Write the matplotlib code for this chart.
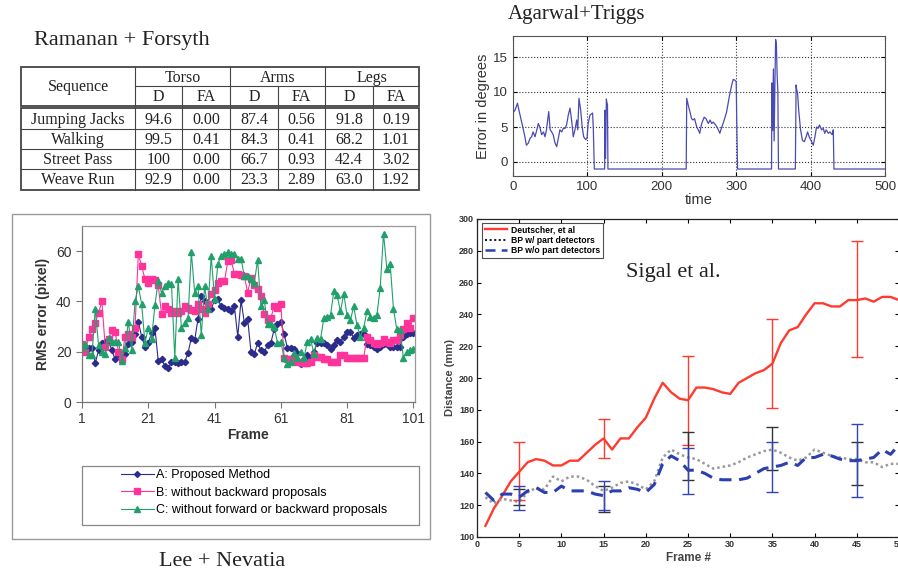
import matplotlib
matplotlib.use('Agg')
import matplotlib.pyplot as plt
from matplotlib.patches import Rectangle
from matplotlib.lines import Line2D

# ======================= DATA =======================
# --- Ramanan + Forsyth table ---
tbl_sequences = ["Jumping Jacks", "Walking", "Street Pass", "Weave Run"]
tbl_groups = ["Torso", "Arms", "Legs"]
tbl_sub = ["D", "FA"]
torso_D = ["94.6", "99.5", "100", "92.9"]
torso_FA = ["0.00", "0.41", "0.00", "0.00"]
arms_D = ["87.4", "84.3", "66.7", "23.3"]
arms_FA = ["0.56", "0.41", "0.93", "2.89"]
legs_D = ["91.8", "68.2", "42.4", "63.0"]
legs_FA = ["0.19", "1.01", "3.02", "1.92"]

# --- Agarwal + Triggs (time, error in degrees) ---
ag_time = [0, 0.5, 2.7, 6, 8, 11, 14, 16, 18, 20.6,
           23, 25, 27, 29.6, 32, 34, 36, 38.5, 41, 43,
           45, 48, 50, 52, 54, 56.5, 58.7, 61, 63, 65.4,
           67.7, 70, 72, 74.3, 76.6, 79, 81, 83.3, 85.6, 87,
           88.7, 91, 93, 95, 97.7, 99.5, 101, 103.5, 107, 108,
           109.3, 123.2, 123.6, 124.4, 125.5, 126.2, 127, 127.6, 232.8, 233.5,
           235.6, 238, 240, 242, 244, 247, 249, 251, 253.6, 257,
           259.4, 262.5, 265, 267, 269, 273, 276, 278, 280, 283,
           287, 289, 291, 294, 296, 298, 300, 301, 301.8, 347.5,
           348, 349, 350, 351, 352, 353, 354, 355, 356, 356.8,
           379.5, 380.5, 381, 382.5, 384, 386.5, 389, 391.6, 394, 396,
           398, 400.5, 403.6, 405.8, 408, 410, 412, 414.8, 417, 419,
           421, 423.8, 426, 429, 430.5, 431.4, 500]
ag_error = [4.3, 7.1, 7.4, 8.4, 7.4, 6.0, 4.6, 3.6, 2.4, 2.7,
            3.4, 3.6, 4.3, 3.6, 4.6, 5.5, 5.0, 3.9, 4.3, 3.6,
            4.6, 7.2, 4.6, 4.3, 3.9, 2.7, 2.2, 3.4, 4.6, 4.3,
            4.8, 4.8, 5.3, 6.7, 7.7, 5.8, 3.6, 4.6, 6.0, 4.6,
            9.1, 7.4, 5.0, 3.6, 3.2, 3.4, 5.5, 6.7, 7.0, 4.6,
            -1.0, -1.0, 7.4, 0.5, 9.0, 8.5, 8.2, -1.0, -1.0, 9.1,
            8.1, 7.1, 6.2, 6.0, 6.2, 5.0, 4.6, 4.1, 5.5, 6.4,
            6.2, 5.5, 6.0, 5.5, 5.7, 5.2, 4.6, 4.1, 4.8, 5.7,
            7.1, 8.3, 9.5, 11.0, 11.8, 11.7, 11.5, 4.0, -1.0, -1.0,
            11.3, 4.5, 13.3, 3.0, 11.0, 17.5, 16.8, 12.5, 10.0, -1.0,
            -1.0, 11.0, 10.5, 9.8, 7.4, 4.6, 3.1, 2.9, 3.6, 4.3,
            3.6, 3.1, 2.4, 3.6, 5.0, 4.8, 5.3, 4.6, 4.8, 4.1,
            4.6, 4.1, 4.3, 3.9, 4.6, -1.0, -1.0]

# --- Lee + Nevatia (RMS error per frame) ---
lee_frames = list(range(1, 102))
lee_A = [21, 22, 21.5, 21.5, 15.5, 20.5, 23.5, 24, 24.5, 20.5,
         17, 19, 18.5, 19, 23, 24, 27, 32, 26, 22,
         23.5, 27.5, 29.5, 16.5, 17, 14.5, 13.5, 16, 16, 15.5,
         16, 16, 19.5, 25.5, 24.5, 33, 42, 40, 37.5, 37,
         40.5, 41, 38, 37.5, 37, 36, 38, 26, 40.5, 31.5,
         33, 20, 19, 23.5, 20.5, 20, 22.5, 23.5, 29, 31,
         32, 27, 21.5, 21.5, 21, 19.5, 15, 17, 18.5, 17,
         20, 23.5, 23.5, 23.5, 22.5, 21, 22.5, 24.5, 24, 26,
         28, 28, 25.5, 26.5, 27, 27, 23, 22.5, 22, 21,
         22, 23, 23, 22, 22, 22, 22, 26, 27, 27.5,
         27.5]
lee_B = [23, 20, 26, 29, 31.5, 35.5, 40, 22, 25, 28.5,
         28, 20, 17, 26, 27, 26, 29.5, 59, 54, 49,
         47.5, 49, 48.5, 46.5, 35, 38, 37, 35.5, 36, 35.5,
         36, 38, 37.5, 36.5, 36, 39, 37, 35.5, 39, 43,
         44.5, 47.5, 48, 48, 56, 56.5, 51, 51, 50.5, 50,
         43.5, 49.5, 46.5, 45, 42, 35, 32.5, 33.5, 38, 37.5,
         39, 17.5, 17, 17, 17.5, 16, 16, 15.5, 15.5, 16,
         18.5, 18, 18, 17, 17, 16, 16, 16, 18.5, 18.5,
         17.5, 17.5, 17.5, 17.5, 17.5, 17.5, 26, 24.5, 23.5, 23,
         23.5, 25, 24, 23.5, 24.5, 24.5, 26.5, 29, 31.5, 29.5,
         33.5]
lee_C = [22, 23, 18.5, 18.5, 37, 22.5, 20, 19, 25.5, 24,
         24, 24, 16.5, 21.5, 32, 20.5, 40, 46, 39, 23.5,
         29.5, 25, 38.5, 48, 43.5, 46, 47.5, 47, 17.5, 49,
         29.5, 31.5, 33.5, 59.5, 43.5, 46, 26.5, 46, 37, 58,
         41, 55, 58, 59, 59.5, 59, 59, 57, 57, 50,
         50, 49, 47.5, 56.5, 38, 40.5, 31, 31, 30, 23.5,
         24, 17.5, 15, 16, 19.5, 17.5, 20, 17.5, 24, 25,
         19, 25.5, 25, 33.5, 34, 34.5, 44, 42.5, 36, 43,
         34.5, 32.5, 38, 30.5, 26, 29.5, 36, 34, 33.5, 34.5,
         45.5, 67, 53, 55, 37, 29, 28.5, 17.5, 20, 20.5,
         21]
lee_labels = ["A: Proposed Method", "B: without backward proposals",
              "C: without forward or backward proposals"]
lee_xticks = [1, 21, 41, 61, 81, 101]

# --- Sigal et al. (distance in mm per frame) ---
sig_frames = list(range(1, 51))
sig_deutscher = [107, 118, 126, 135, 141, 147, 149, 148, 145, 145,
                 148, 148, 153, 158, 162, 155, 162, 162, 169, 175,
                 187, 197, 191, 187, 186, 194, 194, 193, 191, 190,
                 197, 200, 203, 205, 209, 222, 230, 232, 240, 247,
                 247, 245, 245, 249, 249, 250, 248, 251, 251, 249]
sig_bp_with = [125, 121, 124, 123, 122, 128, 131, 130, 138, 135,
               138, 138, 136, 132, 129, 131, 134, 135, 133, 130,
               135, 150, 155, 152, 150, 149, 146, 143, 144, 145,
               147, 150, 152, 154, 155, 153, 150, 148, 150, 155,
               153, 151, 150, 149, 149, 147, 147, 144, 146, 146]
sig_bp_without = [128, 123, 127, 127, 125, 129, 131, 128, 128, 132,
                  129, 129, 129, 127, 126, 129, 129, 131, 130, 128,
                  133, 146, 151, 148, 142, 142, 140, 137, 136, 136,
                  136, 137, 140, 143, 144, 145, 147, 145, 150, 150,
                  152, 151, 149, 148, 148, 149, 150, 155, 152, 158]
sig_err_frames = [5, 15, 25, 35, 45]
sig_deut_lo = [123, 150, 158, 181, 213]
sig_deut_hi = [160, 174, 214, 237, 286]
sig_with_lo = [120, 116, 136, 142, 133]
sig_with_hi = [130, 132, 166, 169, 160]
sig_wo_lo = [117, 117, 127, 128, 125]
sig_wo_hi = [132, 135, 156, 160, 171]
sig_labels = ["Deutscher, et al", "BP w/ part detectors", "BP w/o part detectors"]

# ======================= FIGURE =======================
W, H = 898, 575
SERIF = 'Liberation Serif'
SANS = 'Liberation Sans'
fig = plt.figure(figsize=(W / 100, H / 100), dpi=100)
fig.patch.set_facecolor('white')


def frect(l, t, r, b):
    return [l / W, 1 - b / H, (r - l) / W, (b - t) / H]


# overlay axes in pixel coordinates (table + boxes)
ov = fig.add_axes([0, 0, 1, 1], zorder=-1)
ov.set_xlim(0, W)
ov.set_ylim(H, 0)
ov.axis('off')

# ---------------- Ramanan + Forsyth table ----------------
fig.text(122 / W, 1 - 40 / H, "Ramanan + Forsyth", family=SERIF, fontsize=16,
         ha='center', va='center', color='#222')
cx = [21, 135, 182, 230, 278, 325, 373, 419]
hdr_t, hdr_m, hdr_b = 67, 86, 106
body_t = 108
row_y = [108, 129, 149, 169, 190]
lc = '#444'
ov.add_patch(Rectangle((cx[0], hdr_t), cx[-1] - cx[0], hdr_b - hdr_t, fill=False, ec=lc, lw=1.3))
ov.add_patch(Rectangle((cx[0], body_t), cx[-1] - cx[0], row_y[-1] - body_t, fill=False, ec=lc, lw=1.3))
ov.plot([cx[1], cx[-1]], [hdr_m, hdr_m], color=lc, lw=0.8)
for i, x in enumerate(cx[1:-1], start=1):
    if i in (1, 3, 5):
        ov.plot([x, x], [hdr_t, hdr_b], color=lc, lw=0.8)
    else:
        ov.plot([x, x], [hdr_m, hdr_b], color=lc, lw=0.8)
    ov.plot([x, x], [body_t, row_y[-1]], color=lc, lw=0.8)
for y in row_y[1:-1]:
    ov.plot([cx[0], cx[-1]], [y, y], color=lc, lw=0.8)

tfs = 11.5
tcol = '#222'
ov.text((cx[0] + cx[1]) / 2, (hdr_t + hdr_b) / 2 + 4.5, "Sequence", ha='center', va='baseline',
        family=SERIF, fontsize=tfs, color=tcol)
for g, name in enumerate(tbl_groups):
    xa, xb, xc = cx[1 + 2 * g], cx[2 + 2 * g], cx[3 + 2 * g]
    ov.text((xa + xc) / 2, (hdr_t + hdr_m) / 2 + 5, name, ha='center', va='baseline',
            family=SERIF, fontsize=tfs, color=tcol)
    ov.text((xa + xb) / 2, (hdr_m + hdr_b) / 2 + 5, tbl_sub[0], ha='center', va='baseline',
            family=SERIF, fontsize=tfs, color=tcol)
    ov.text((xb + xc) / 2, (hdr_m + hdr_b) / 2 + 5, tbl_sub[1], ha='center', va='baseline',
            family=SERIF, fontsize=tfs, color=tcol)
cols = [tbl_sequences, torso_D, torso_FA, arms_D, arms_FA, legs_D, legs_FA]
for c, col in enumerate(cols):
    for r, val in enumerate(col):
        ov.text((cx[c] + cx[c + 1]) / 2, (row_y[r] + row_y[r + 1]) / 2 + 5, val, ha='center',
                va='baseline', family=SERIF, fontsize=tfs, color=tcol)

# ---------------- Agarwal + Triggs ----------------
fig.text(577 / W, 1 - 15 / H, "Agarwal+Triggs", family=SERIF, fontsize=15,
         ha='center', va='center', color='#222')
ax2 = fig.add_axes(frect(513, 36, 885, 176))
ax2.plot(ag_time, ag_error, color='#4a4ab5', lw=0.9)
ax2.set_xlim(0, 500)
ax2.set_ylim(-2, 18)
ax2.set_xticks([0, 100, 200, 300, 400, 500])
ax2.set_yticks([0, 5, 10, 15])
ax2.grid(True, linestyle=':', color='#333', lw=0.8)
ax2.tick_params(direction='in', labelsize=9.5, labelcolor='#333', length=3, top=True, right=True)
for lab in ax2.get_xticklabels() + ax2.get_yticklabels():
    lab.set_family(SANS)
ax2.set_xlabel("time", family=SANS, fontsize=10.5, color='#333', labelpad=0)
ax2.set_ylabel("Error in degrees", family=SANS, fontsize=10.5, color='#333', labelpad=2)
for s in ax2.spines.values():
    s.set_color('#555')
    s.set_linewidth(0.8)

# ---------------- Lee + Nevatia ----------------
ov.add_patch(Rectangle((12, 214), 430 - 12, 539 - 214, fill=False, ec='#9a9a9a', lw=1.0))
ax3 = fig.add_axes(frect(82, 226, 415, 402))
cA, cB, cC = '#2b2b8c', '#ff3399', '#22a06b'
ax3.plot(lee_frames, lee_A, color=cA, lw=0.8, marker='D', ms=3.2, mec=cA, mfc=cA)
ax3.plot(lee_frames, lee_B, color=cB, lw=0.8, marker='s', ms=4.5, mec=cB, mfc=cB)
ax3.plot(lee_frames, lee_C, color=cC, lw=0.8, marker='^', ms=4.2, mec=cC, mfc=cC)
ax3.set_xlim(1, 101.5)
ax3.set_ylim(0, 70)
ax3.set_xticks(lee_xticks)
ax3.set_yticks([0, 20, 40, 60])
ax3.tick_params(direction='out', length=4, labelsize=10, labelcolor='#333', color='#777')
for lab in ax3.get_xticklabels() + ax3.get_yticklabels():
    lab.set_family(SANS)
ax3.set_xlabel("Frame", family=SANS, fontsize=10, fontweight='bold', color='#333', labelpad=1)
ax3.set_ylabel("RMS error (pixel)", family=SANS, fontsize=10, fontweight='bold', color='#333',
               labelpad=4)
for s in ax3.spines.values():
    s.set_color('#9a9a9a')
    s.set_linewidth(0.9)
ax3.spines['left'].set_color('#777')
ax3.spines['bottom'].set_color('#777')

ov.add_patch(Rectangle((82, 466), 419 - 82, 525 - 466, fill=False, ec='#888', lw=0.9))
lee_handles = [Line2D([], [], color=cA, lw=0.8, marker='D', ms=3, mfc=cA, mec=cA),
               Line2D([], [], color=cB, lw=0.8, marker='s', ms=4, mfc=cB, mec=cB),
               Line2D([], [], color=cC, lw=0.8, marker='^', ms=4, mfc=cC, mec=cC)]
fig.legend(lee_handles, lee_labels, loc='upper left', bbox_to_anchor=(118 / W, 1 - 466 / H),
           frameon=False, prop={'family': SANS, 'size': 9}, handlelength=2.6,
           handletextpad=0.2, labelspacing=0.45, borderpad=0.25, borderaxespad=0)
fig.text(222 / W, 1 - 562 / H, "Lee + Nevatia", family=SERIF, fontsize=16,
         ha='center', va='center', color='#222')

# ---------------- Sigal et al. ----------------
ax4 = fig.add_axes(frect(477, 219, 899, 537))
red, grey, blue = '#ff3b2f', '#999999', '#2c3fb0'
ax4.plot(sig_frames, sig_deutscher, color=red, lw=1.7, label=sig_labels[0])
ax4.plot(sig_frames, sig_bp_with, color=grey, lw=1.8, ls=(0, (1, 1.2)), label=sig_labels[1])
ax4.plot(sig_frames, sig_bp_without, color=blue, lw=2.2, ls=(0, (4, 2.5)), label=sig_labels[2])


def ebar(ax, lo, hi, col, series):
    ctr = [series[sig_frames.index(f)] for f in sig_err_frames]
    ax.errorbar(sig_err_frames, ctr, yerr=[[c - l for c, l in zip(ctr, lo)],
                                          [h - c for c, h in zip(ctr, hi)]],
                fmt='none', ecolor=col, elinewidth=1.0, capsize=4, capthick=1.0)


ebar(ax4, sig_deut_lo, sig_deut_hi, red, sig_deutscher)
ebar(ax4, sig_with_lo, sig_with_hi, '#333333', sig_bp_with)
ebar(ax4, sig_wo_lo, sig_wo_hi, '#3344bb', sig_bp_without)
ax4.set_xlim(0, 50)
ax4.set_ylim(100, 300)
ax4.set_xticks(range(0, 51, 5))
ax4.set_yticks(range(100, 301, 20))
ax4.tick_params(direction='in', length=3, labelsize=6.5, labelcolor='#333', top=True, right=True,
                pad=2)
for lab in ax4.get_xticklabels() + ax4.get_yticklabels():
    lab.set_family(SANS)
    lab.set_fontweight('bold')
ax4.set_xlabel("Frame #", family=SANS, fontsize=8.5, fontweight='bold', color='#444', labelpad=2)
ax4.set_ylabel("Distance (mm)", family=SANS, fontsize=8, fontweight='bold', color='#444',
               labelpad=3)
for s in ax4.spines.values():
    s.set_color('#222')
    s.set_linewidth(0.9)
sig_handles = [Line2D([], [], color=red, lw=1.7),
               Line2D([], [], color='#222', lw=1.5, ls=(0, (1, 1.2))),
               Line2D([], [], color=blue, lw=1.8, ls=(0, (4, 2.5)))]
leg = ax4.legend(sig_handles, sig_labels, loc='upper left', bbox_to_anchor=(0.012, 0.988),
                 prop={'family': SANS, 'size': 6.2, 'weight': 'bold'}, frameon=True,
                 fancybox=False, edgecolor='#222', handlelength=2.6, handletextpad=0.5,
                 labelspacing=0.15, borderpad=0.3, borderaxespad=0)
leg.get_frame().set_linewidth(0.8)
fig.text(673 / W, 1 - 273 / H, "Sigal et al.", family=SERIF, fontsize=16,
         ha='center', va='center', color='#222')

fig.savefig('out.png', dpi=100, facecolor='white')
